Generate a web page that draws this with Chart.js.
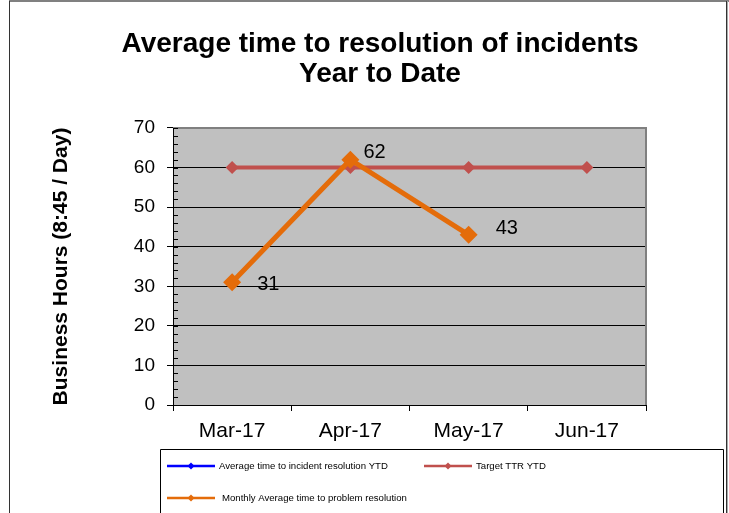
<!DOCTYPE html>
<html>
<head>
<meta charset="utf-8">
<script src="https://cdn.jsdelivr.net/npm/chart.js@4.4.1/dist/chart.umd.min.js"></script>
<style>
  html, body { margin: 0; padding: 0; background: #fff; }
  #wrap { width: 729px; height: 513px; position: relative; }
</style>
</head>
<body>
<div id="wrap"><canvas id="c" width="729" height="513"></canvas></div>
<script>
const categories = ['Mar-17', 'Apr-17', 'May-17', 'Jun-17'];
const avgIncidentYTD = [null, null, null, null];
const targetTTR = [60, 60, 60, 60];
const monthlyProblem = [31, 62, 43, null];
const seriesNames = [
  'Average time to incident resolution YTD',
  'Target TTR YTD',
  'Monthly Average time to problem resolution'
];
const titleLines = ['Average time to resolution of incidents', 'Year to Date'];
const yAxisTitle = 'Business Hours (8:45 / Day)';

const FONT = '"Liberation Sans", Arial, sans-serif';

const decorPlugin = {
  id: 'decor',
  beforeDraw(chart) {
    const { ctx, chartArea: a } = chart;
    ctx.save();
    ctx.fillStyle = '#C0C0C0';
    ctx.fillRect(a.left, a.top, a.right - a.left, a.bottom - a.top);
    // outer frame
    ctx.strokeStyle = '#808080';
    ctx.lineWidth = 2;
    ctx.beginPath(); ctx.moveTo(9, 1); ctx.lineTo(729, 1); ctx.stroke();
    ctx.strokeStyle = '#333';
    ctx.lineWidth = 1;
    ctx.beginPath(); ctx.moveTo(9.5, 1); ctx.lineTo(9.5, 513); ctx.stroke();
    ctx.beginPath(); ctx.moveTo(726.5, 1); ctx.lineTo(726.5, 513); ctx.stroke();
    ctx.strokeStyle = '#aaa';
    ctx.beginPath(); ctx.moveTo(727.5, 1); ctx.lineTo(727.5, 513); ctx.stroke();
    ctx.restore();
  },
  beforeDatasetsDraw(chart) {
    const { ctx, chartArea: a, scales } = chart;
    const y = scales.y;
    ctx.save();
    // plot border top and right (gray)
    ctx.strokeStyle = '#808080';
    ctx.lineWidth = 2;
    ctx.beginPath();
    ctx.moveTo(a.left, a.top); ctx.lineTo(a.right, a.top); ctx.lineTo(a.right, a.bottom);
    ctx.stroke();
    // minor + inner major ticks on y axis
    ctx.strokeStyle = '#000';
    ctx.lineWidth = 1;
    for (let v = y.min; v <= y.max; v += 2) {
      const py = Math.round(y.getPixelForValue(v)) + 0.5;
      ctx.beginPath(); ctx.moveTo(a.left, py); ctx.lineTo(a.left + 5, py); ctx.stroke();
    }
    ctx.restore();
  },
  afterDatasetsDraw(chart) {
    const { ctx } = chart;
    // data labels for monthly problem series
    const dsIndex = 2;
    const meta = chart.getDatasetMeta(dsIndex);
    const offs = [[25, 2], [13, -7], [27, -6]];
    ctx.save();
    ctx.font = '20px ' + FONT;
    ctx.fillStyle = '#000';
    ctx.textAlign = 'left';
    ctx.textBaseline = 'middle';
    chart.data.datasets[dsIndex].data.forEach((v, i) => {
      if (v == null) return;
      const p = meta.data[i];
      const o = offs[i] || [20, 0];
      ctx.fillText(String(v), p.x + o[0], p.y + o[1]);
    });
    ctx.restore();
  },
  afterDraw(chart) {
    const { ctx } = chart;
    ctx.save();
    // legend box
    ctx.strokeStyle = '#000';
    ctx.lineWidth = 1;
    ctx.beginPath();
    ctx.moveTo(160.5, 514); ctx.lineTo(160.5, 449.5); ctx.lineTo(723.5, 449.5); ctx.lineTo(723.5, 514);
    ctx.stroke();
    const items = [
      { ds: 0, x: 167, y: 466, tx: 219 },
      { ds: 1, x: 424, y: 466, tx: 476 },
      { ds: 2, x: 167, y: 498, tx: 222 }
    ];
    ctx.font = '9.6px ' + FONT;
    ctx.textBaseline = 'middle';
    ctx.textAlign = 'left';
    items.forEach(it => {
      const d = chart.data.datasets[it.ds];
      ctx.strokeStyle = d.borderColor;
      ctx.fillStyle = d.borderColor;
      ctx.lineWidth = 2.5;
      ctx.beginPath(); ctx.moveTo(it.x, it.y); ctx.lineTo(it.x + 48, it.y); ctx.stroke();
      const mx = it.x + 24, r = 3.5;
      ctx.beginPath();
      ctx.moveTo(mx, it.y - r); ctx.lineTo(mx + r, it.y); ctx.lineTo(mx, it.y + r); ctx.lineTo(mx - r, it.y);
      ctx.closePath(); ctx.fill();
      ctx.fillStyle = '#000';
      ctx.fillText(d.label, it.tx, it.y);
    });
    ctx.restore();
  }
};

new Chart(document.getElementById('c'), {
  type: 'line',
  data: {
    labels: categories,
    datasets: [
      { label: seriesNames[0], data: avgIncidentYTD, borderColor: '#0000FF', backgroundColor: '#0000FF',
        borderWidth: 3, pointStyle: 'rectRot', pointRadius: 5, order: 2 },
      { label: seriesNames[1], data: targetTTR, borderColor: '#C0504D', backgroundColor: '#C0504D',
        borderWidth: 4, pointStyle: 'rectRot', pointRadius: 6.5, pointBorderWidth: 0, order: 1 },
      { label: seriesNames[2], data: monthlyProblem, borderColor: '#E46C0A', backgroundColor: '#E46C0A',
        borderWidth: 5, pointStyle: 'rectRot', pointRadius: 9, pointBorderWidth: 0, order: 0 }
    ]
  },
  options: {
    responsive: false,
    animation: false,
    devicePixelRatio: 1,
    layout: { padding: { left: 49, right: 18, top: 0, bottom: 0 } },
    plugins: {
      legend: { display: false },
      tooltip: { enabled: false },
      title: {
        display: true,
        text: titleLines,
        color: '#000',
        font: { family: FONT, size: 28, weight: 'bold', lineHeight: 1.0714 },
        padding: { top: 29, bottom: 39 }
      }
    },
    scales: {
      x: {
        offset: true,
        grid: { display: true, offset: true, drawOnChartArea: false, drawTicks: true, tickLength: 6, color: '#000' },
        border: { display: true, color: '#000', width: 1 },
        ticks: { color: '#000', font: { family: FONT, size: 21 }, padding: 8, maxRotation: 0 },
        afterFit(s) { s.height = 108; }
      },
      y: {
        min: 0, max: 70,
        ticks: { stepSize: 10, color: '#000', font: { family: FONT, size: 19 }, padding: 12 },
        grid: {
          color: (c) => (c.tick && c.tick.value === 70) ? 'rgba(0,0,0,0)' : '#000',
          tickColor: '#000', tickLength: 6, lineWidth: 1
        },
        border: { display: true, color: '#000', width: 1 },
        title: { display: true, text: yAxisTitle, color: '#000', padding: 0,
          font: { family: FONT, size: 21, weight: 'bold' } },
        afterFit(s) { s.width = 124; }
      },
      yR: {
        position: 'right',
        display: true,
        min: 0, max: 70,
        grid: { display: false, drawTicks: false },
        border: { display: false },
        ticks: { display: false },
        afterFit(s) { s.width = 65; }
      }
    }
  },
  plugins: [decorPlugin]
});
</script>
</body>
</html>
